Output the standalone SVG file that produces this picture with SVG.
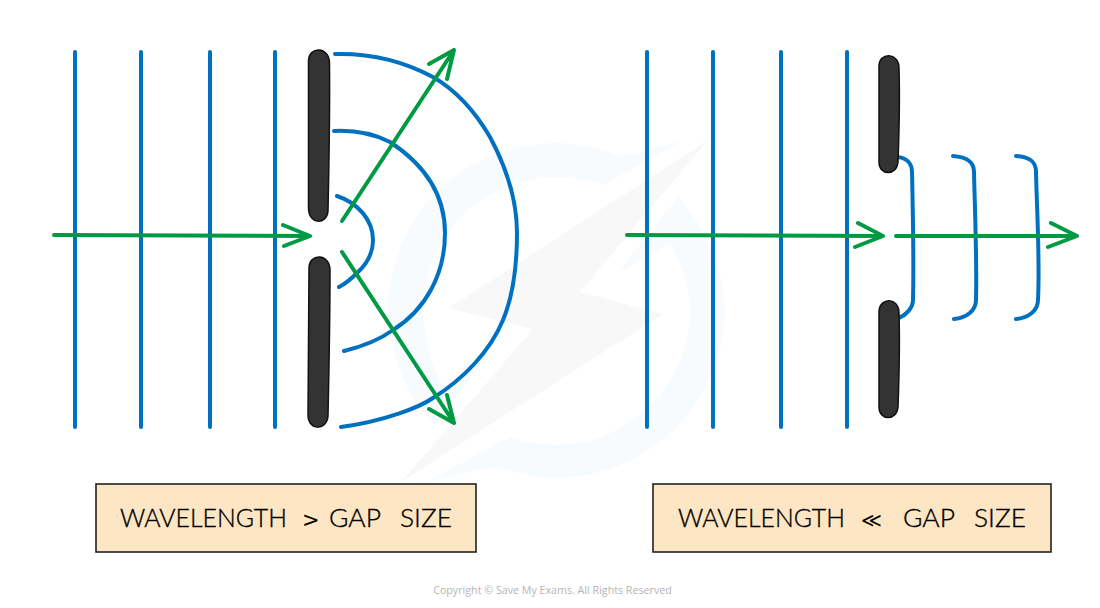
<svg xmlns="http://www.w3.org/2000/svg" width="1100" height="608" viewBox="0 0 1100 608">
<defs><style>
.wave{fill:none;stroke:#0070c0;stroke-width:4;stroke-linecap:round;stroke-linejoin:round}
.ray{fill:none;stroke:#009a44;stroke-width:4;stroke-linecap:round;stroke-linejoin:round}
.bar{fill:#333;stroke:#111;stroke-width:1.5}
.box{fill:#fde6c4;stroke:#222;stroke-width:1.6}
.lab{font-family:"Lato","Liberation Sans",sans-serif;font-size:26px;font-weight:300;fill:#000;stroke:#000;stroke-width:.35}
.sym{font-family:"DejaVu Sans",sans-serif;font-weight:400;stroke-width:0}
.copy{font-family:"Open Sans","Liberation Sans",sans-serif;font-size:10.7px;fill:#b5b5b5}
</style></defs>
<rect width="1100" height="608" fill="#fff"/>
<g id="watermark">
<path d="M682,141L620,157C600,147 575,143 555,143A167,167 0 0 0 388,310C389,355 408,400 435,424L493,350L443,387C430,362 423,335 423,310A133,133 0 0 1 555,177C572,177 588,180 603,185Z" fill="#f7fbfe"/>
<path d="M428,481L510,437C525,442 540,445 557,445A135,135 0 0 0 690,313C690,290 682,265 670,243L618,273L678,197C705,225 725,270 725,313A170,170 0 0 1 557,478C535,478 515,472 493,467Z" fill="#f7fbfe"/>
<polygon points="708,140 580,292 663,314 402,481 533,329 449,308" fill="#f8f8f8"/>
</g>
<g id="connectors">
<g id="incident-waves-left">
<path class="wave" d="M75,52V427M141,52V427M210,52V427M275,52V427"/>
</g>
<g id="incident-waves-right">
<path class="wave" d="M647,52V427M713,52V427M781,52V427M847,52V427"/>
</g>
<g id="diffracted-waves-left">
<path class="wave" d="M335,54C372,53 405,62 433,77C452,88 473,108 490,137C505,165 517,200 517,233C517,265 513,296 503,320C490,352 462,380 433,398C420,407 385,421 341,427"/>
<path class="wave" d="M334,131C355,130 372,133 390,142C425,165 445,195 445,233C445,275 425,310 393,330C378,341 360,347 344,351"/>
<path class="wave" d="M337,196C358,203 373,220 373,240C373,252 367,264 357,273C351,279 345,284 339,287"/>
</g>
<g id="plane-waves-right">
<path class="wave" d="M898,157C906,158 912,163 912,172C913,215 914,260 913,300C913,308 906,315 899,318"/>
<path class="wave" d="M953,156C966,157 974,161 974,172C975,215 977,260 976,300C976,311 966,318 954,319"/>
<path class="wave" d="M1016,156C1029,157 1036,161 1036,172C1037,215 1040,260 1038,300C1038,311 1028,318 1016,319"/>
</g>
<g id="rays">
<path class="ray" d="M54,235L310,236M283,225L310,236L284,246"/>
<path class="ray" d="M342,221L454,50M429,64L454,50L447,79"/>
<path class="ray" d="M342,252L454,423M429,409L454,423L447,395"/>
<path class="ray" d="M627,235L883,236M858,223L883,236L855,247"/>
<path class="ray" d="M896,236L1077,236M1051,223L1077,236L1048,247"/>
</g>
</g>
<g id="barrier-left-top"><path class="bar" d="M308.500,61C308.500,46 329.500,46 329.500,63C330,115 329,165 328,211C327,225 308.500,225 308.500,208Z"/></g>
<g id="barrier-left-bottom"><path class="bar" d="M309,268C309,253 330,253 330,270C330,320 329,370 328,416C327,431 308,431 308,415Z"/></g>
<g id="barrier-right-top"><path class="bar" d="M879,66C879,52 899,52 899,68C900,100 899,135 898,162C897,176 879,176 879,162Z"/></g>
<g id="barrier-right-bottom"><path class="bar" d="M879,311C880,297 899,297 899,313C900,345 899,380 898,407C897,421 879,421 879,407Z"/></g>
<g id="label-left">
<rect class="box" x="96" y="484" width="380" height="68"/>
<text class="lab" y="527"><tspan x="120" textLength="167" lengthAdjust="spacingAndGlyphs">WAVELENGTH</tspan><tspan class="sym" x="302" font-size="21">&gt;</tspan><tspan x="329" textLength="52" lengthAdjust="spacingAndGlyphs">GAP</tspan><tspan x="400" textLength="52" lengthAdjust="spacingAndGlyphs">SIZE</tspan></text>
</g>
<g id="label-right">
<rect class="box" x="653" y="484" width="398" height="68"/>
<text class="lab" y="527"><tspan x="678" textLength="167" lengthAdjust="spacingAndGlyphs">WAVELENGTH</tspan><tspan class="sym" x="861" font-size="20">≪</tspan><tspan x="903" textLength="52" lengthAdjust="spacingAndGlyphs">GAP</tspan><tspan x="974" textLength="52" lengthAdjust="spacingAndGlyphs">SIZE</tspan></text>
</g>
<text class="copy" x="552.500" y="593.500" text-anchor="middle">Copyright © Save My Exams. All Rights Reserved</text>
</svg>
